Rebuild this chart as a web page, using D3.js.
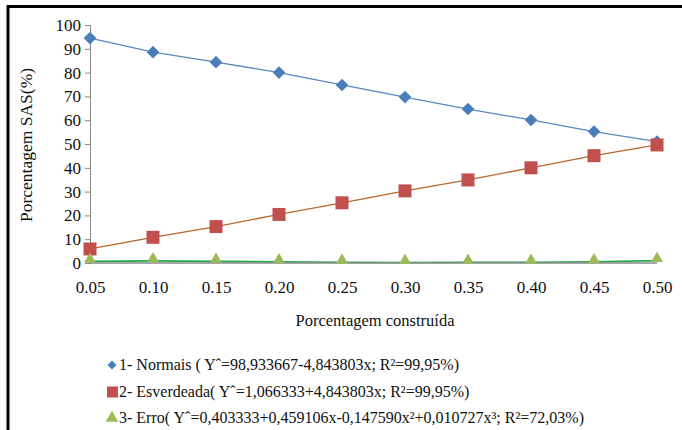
<!DOCTYPE html>
<html>
<head>
    <meta charset="utf-8">
    <title>Porcentagem SAS</title>
    <script src="https://d3js.org/d3.v7.min.js"></script>
    <style>
        body {
            margin: 0;
            background: white;
        }
    </style>
</head>
<body>
    <div id="chart"></div>
    <script>
        // Data
        const categories = ["0.05", "0.10", "0.15", "0.20", "0.25", "0.30", "0.35", "0.40", "0.45", "0.50"];
        const normais = [94.5, 88.6, 84.4, 80.0, 74.8, 69.7, 64.7, 60.1, 55.2, 51.0];
        const esverdeada = [5.9, 10.8, 15.3, 20.4, 25.3, 30.3, 34.9, 40.0, 45.1, 49.6];
        const erro = [0.7, 0.9, 0.7, 0.5, 0.3, 0.2, 0.3, 0.3, 0.5, 1.0];
        const yTicks = [0, 10, 20, 30, 40, 50, 60, 70, 80, 90, 100];
        const legendLabels = [
            "1- Normais ( Y\u02c6=98,933667-4,843803x; R\u00b2=99,95%)",
            "2- Esverdeada( Y\u02c6=1,066333+4,843803x; R\u00b2=99,95%)",
            "3- Erro( Y\u02c6=0,403333+0,459106x-0,147590x\u00b2+0,010727x\u00b3; R\u00b2=72,03%)"
        ];

        const FONT = "\"Liberation Serif\"";
        const width = 682, height = 430;
        const svg = d3.select("#chart")
            .append("svg")
            .attr("width", width)
            .attr("height", height);

        // frame (only top and left edges show)
        svg.append("line").attr("x1", 8).attr("x2", width).attr("y1", 6.5).attr("y2", 6.5)
            .attr("stroke", "#000").attr("stroke-width", 3);
        svg.append("line").attr("x1", 8).attr("x2", 8).attr("y1", 5).attr("y2", height)
            .attr("stroke", "#000").attr("stroke-width", 3);

        const x = d3.scalePoint().domain(categories).range([90, 657]);
        const y = d3.scaleLinear().domain([0, 100]).range([263, 25]);

        // y axis
        const yAxis = svg.append("g")
            .attr("transform", "translate(90,0)")
            .call(d3.axisLeft(y).tickValues(yTicks).tickSize(5).tickPadding(4));
        yAxis.select(".domain").attr("stroke", "#888");
        yAxis.selectAll(".tick line").attr("stroke", "#888");
        yAxis.selectAll("text").style("font-size", "17px").style("font-family", FONT).attr("fill", "#111");

        // x axis labels
        const xAxis = svg.append("g")
            .attr("transform", "translate(0,263)")
            .call(d3.axisBottom(x).tickSize(0).tickPadding(18));
        xAxis.select(".domain").remove();
        xAxis.selectAll("text").style("font-size", "17px").style("font-family", FONT).attr("fill", "#111");

        const line = d3.line().x((d, i) => x(categories[i])).y(d => y(d));

        // series lines
        svg.append("path").datum(erro).attr("d", line)
            .attr("fill", "none").attr("stroke", "#21a84a").attr("stroke-width", 1.6);
        svg.append("line").attr("x1", 90).attr("x2", 657).attr("y1", y(0)).attr("y2", y(0))
            .attr("stroke", "#888").attr("stroke-width", 1.3);
        svg.append("path").datum(normais).attr("d", line)
            .attr("fill", "none").attr("stroke", "#5b86c4").attr("stroke-width", 1.3);
        svg.append("path").datum(esverdeada).attr("d", line)
            .attr("fill", "none").attr("stroke", "#b8682c").attr("stroke-width", 1.3);

        // markers
        const diamond = d3.symbol().type(d3.symbolSquare).size(80);
        svg.append("g").selectAll("path").data(normais).join("path")
            .attr("d", diamond)
            .attr("transform", (d, i) => `translate(${x(categories[i])},${y(d)}) rotate(45)`)
            .attr("fill", "#4a7ebb");
        svg.append("g").selectAll("rect").data(esverdeada).join("rect")
            .attr("x", (d, i) => x(categories[i]) - 6.5)
            .attr("y", d => y(d) - 6.5)
            .attr("width", 13).attr("height", 13)
            .attr("fill", "#c0504d");
        const tri = d3.symbol().type(d3.symbolTriangle).size(62);
        svg.append("g").selectAll("path").data(erro).join("path")
            .attr("d", tri)
            .attr("transform", (d, i) => `translate(${x(categories[i])},${y(d) - 2})`)
            .attr("fill", "#9bbb59");

        // axis titles
        svg.append("text")
            .attr("x", 375).attr("y", 326)
            .attr("text-anchor", "middle")
            .style("font-family", FONT)
            .style("font-size", "16.5px")
            .attr("fill", "#111")
            .text("Porcentagem construída");
        svg.append("text")
            .attr("transform", "translate(32,145) rotate(-90)")
            .attr("text-anchor", "middle")
            .style("font-family", FONT)
            .style("font-size", "17.5px")
            .attr("fill", "#111")
            .text("Porcentagem SAS(%)");

        // legend
        const legendY = [365, 392, 418];
        const leg = svg.append("g");
        leg.append("path").attr("d", d3.symbol().type(d3.symbolSquare).size(40))
            .attr("transform", `translate(112,${legendY[0]}) rotate(45)`).attr("fill", "#4a7ebb");
        leg.append("rect").attr("x", 107).attr("y", legendY[1] - 5.5).attr("width", 11).attr("height", 11)
            .attr("fill", "#c0504d");
        leg.append("path").attr("d", d3.symbol().type(d3.symbolTriangle).size(70))
            .attr("transform", `translate(112,${legendY[2]})`).attr("fill", "#9bbb59");
        leg.selectAll("text").data(legendLabels).join("text")
            .attr("x", 119)
            .attr("y", (d, i) => legendY[i] + 5)
            .style("font-family", FONT)
            .style("font-size", "16px")
            .attr("fill", "#111")
            .text(d => d);
    </script>
</body>
</html>
